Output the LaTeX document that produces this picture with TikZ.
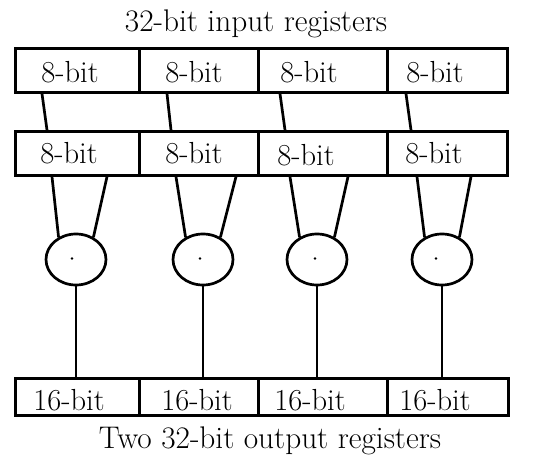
\documentclass[tikz,border=0pt]{standalone}
\usetikzlibrary{calc,shapes.geometric}
\begin{document}
\begin{tikzpicture}[x=1pt,y=-1pt,
  line width=2.7pt,
  regbox/.style={draw, rectangle, inner sep=0pt, anchor=north west},
  lbl/.style={inner sep=0pt, anchor=base west, font=\fontsize{30.5}{34}\selectfont},
  ttl/.style={inner sep=0pt, anchor=base, font=\fontsize{31.3}{35}\selectfont},
  mult/.style={draw, ellipse, inner sep=0pt, minimum width=60pt, minimum height=51pt},
  dot/.style={fill, circle, inner sep=0pt, minimum size=2.6pt}]
\useasboundingbox (0,0) rectangle (550,464);
% titles
\node[ttl] (t1) at (256,31) {32-bit input registers};
\node[ttl] (t2) at (270,448) {Two 32-bit output registers};
% row 1
\node[regbox, minimum width=124pt, minimum height=44pt] (a1) at (14,47) {};
\node[regbox, minimum width=119pt, minimum height=44pt] (a2) at (138,47) {};
\node[regbox, minimum width=129pt, minimum height=44pt] (a3) at (257,47) {};
\node[regbox, minimum width=120pt, minimum height=44pt] (a4) at (386,47) {};
\node[lbl] (la1) at (40,82) {8-bit};
\node[lbl] (la2) at (164,82) {8-bit};
\node[lbl] (la3) at (279,82) {8-bit};
\node[lbl] (la4) at (405,82) {8-bit};
% row 2
\node[regbox, minimum width=124pt, minimum height=44pt] (b1) at (14,130) {};
\node[regbox, minimum width=119pt, minimum height=44pt] (b2) at (138,130) {};
\node[regbox, minimum width=129pt, minimum height=44pt] (b3) at (257,130) {};
\node[regbox, minimum width=120pt, minimum height=44pt] (b4) at (386,130) {};
\node[lbl] (lb1) at (39,163) {8-bit};
\node[lbl] (lb2) at (164,163) {8-bit};
\node[lbl] (lb3) at (276,165) {8-bit};
\node[lbl] (lb4) at (404,163) {8-bit};
% row 3
\node[regbox, minimum width=124pt, minimum height=37pt] (c1) at (14,377) {};
\node[regbox, minimum width=119pt, minimum height=37pt] (c2) at (138,377) {};
\node[regbox, minimum width=129pt, minimum height=37pt] (c3) at (257,377) {};
\node[regbox, minimum width=121pt, minimum height=37pt] (c4) at (386,377) {};
\node[lbl] (lc1) at (32,410) {16-bit};
\node[lbl] (lc2) at (160,410) {16-bit};
\node[lbl] (lc3) at (273,410) {16-bit};
\node[lbl] (lc4) at (398,410) {16-bit};
% multipliers
\node[mult] (e1) at (76,259.5) {};
\node[mult] (e2) at (203,259.5) {};
\node[mult] (e3) at (317,259.5) {};
\node[mult] (e4) at (442,259.5) {};
\node[dot] (d1) at ($(e1.center)+(-4,-1)$) {};
\node[dot] (d2) at ($(e2.center)+(-3,-1)$) {};
\node[dot] (d3) at ($(e3.center)+(-2,-1)$) {};
\node[dot] (d4) at ($(e4.center)+(-6,-1)$) {};
% row1 -> row2
\draw ($(a1.south west)+(28,0)$) -- ($(b1.north west)+(33,0)$);
\draw ($(a2.south west)+(29,0)$) -- ($(b2.north west)+(33,0)$);
\draw ($(a3.south west)+(23,0)$) -- ($(b3.north west)+(28,0)$);
\draw ($(a4.south west)+(20,0)$) -- ($(b4.north west)+(25,0)$);
% row2 -> multipliers
\draw ($(b1.south west)+(38,0)$) -- (e1.128);
\draw ($(b1.south west)+(93,0)$) -- (e1.52);
\draw ($(b2.south west)+(38,0)$) -- (e2.128);
\draw ($(b2.south west)+(98,0)$) -- (e2.52);
\draw ($(b3.south west)+(33,0)$) -- (e3.128);
\draw ($(b3.south west)+(91,0)$) -- (e3.52);
\draw ($(b4.south west)+(31,0)$) -- (e4.128);
\draw ($(b4.south west)+(85,0)$) -- (e4.52);
% multipliers -> outputs
\draw (e1.south) -- (e1.south |- c1.north);
\draw (e2.south) -- (e2.south |- c2.north);
\draw (e3.south) -- (e3.south |- c3.north);
\draw (e4.south) -- (e4.south |- c4.north);
\end{tikzpicture}
\end{document}
